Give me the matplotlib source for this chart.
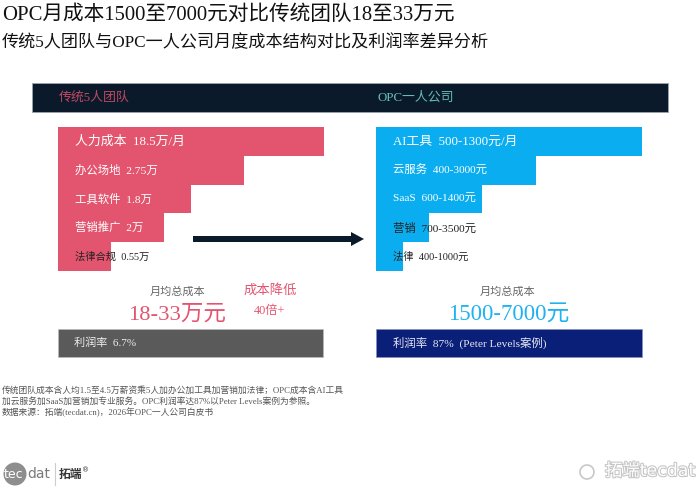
import matplotlib
matplotlib.use('Agg')
import matplotlib.pyplot as plt
from matplotlib.patches import Rectangle, Circle
import matplotlib.patheffects as pe

plt.rcParams['font.family'] = ['Liberation Serif', 'Noto Sans CJK SC', 'DejaVu Sans']

# cost structure (bar lengths are relative)
team_items = ['人力成本', '办公场地', '工具软件', '营销推广', '法律合规']
team_costs = ['18.5万/月', '2.75万', '1.8万', '2万', '0.55万']
team_len = [100, 70, 50, 40, 20]

opc_items = ['AI工具', '云服务', 'SaaS', '营销', '法律']
opc_costs = ['500-1300元/月', '400-3000元', '600-1400元', '700-3500元', '400-1000元']
opc_len = [100, 60, 40, 20, 10]

team_total = '18-33万元'
opc_total = '1500-7000元'
team_margin = '利润率  6.7%'
opc_margin = '利润率  87%  (Peter Levels案例)'
saving = ['成本降低', '40倍+']

title = 'OPC月成本1500至7000元对比传统团队18至33万元'
subtitle = '传统5人团队与OPC一人公司月度成本结构对比及利润率差异分析'
notes = [
    '传统团队成本含人均1.5至4.5万薪资乘5人加办公加工具加营销加法律；OPC成本含AI工具',
    '加云服务加SaaS加营销加专业服务。OPC利润率达87%以Peter Levels案例为参照。',
    '数据来源：拓端(tecdat.cn)，2026年OPC一人公司白皮书',
]

PINK = '#E3556F'
BLUE = '#0AAEF0'
NAVY_HDR = '#0B1A2A'
DARK = '#222222'

W, H = 700, 490
fig = plt.figure(figsize=(7, 4.9), dpi=100)
fig.patch.set_facecolor('white')

# background axes in pixel coordinates
bg = fig.add_axes([0, 0, 1, 1])
bg.set_xlim(0, W)
bg.set_ylim(H, 0)
bg.axis('off')

bg.text(2, 15, title, fontsize=14.9, color='#111111', va='center', ha='left')
bg.text(2, 43, subtitle, fontsize=12.3, color='#111111', va='center', ha='left')

# header band
bg.add_patch(Rectangle((32, 83), 636, 29, facecolor=NAVY_HDR, edgecolor='#9aa4ad', lw=0.6))
bg.text(59, 97.5, '传统5人团队', fontsize=9.3, color='#C04862', va='center')
bg.text(377, 97.5, 'OPC一人公司', fontsize=9.3, color='#63BDB6', va='center')


def bar_panel(x0, lens, items, costs, color, dark_from):
    ax = fig.add_axes([x0 / W, 1 - 271 / H, 266 / W, 144 / H])
    ax.barh(range(len(lens)), lens, height=1.0, color=color, edgecolor='none')
    ax.set_xlim(0, 100)
    ax.set_ylim(len(lens) - 0.5, -0.5)
    ax.axis('off')
    sizes = [9.3, 8.2, 8.2, 8.2, 7.4]
    for i, (it, c) in enumerate(zip(items, costs)):
        col = 'white' if i < dark_from else DARK
        ax.annotate(f'{it}  {c}', xy=(0, i), xytext=(17, 0), textcoords='offset pixels',
                    fontsize=sizes[i], color=col, va='center', ha='left')
    return ax


bar_panel(58, team_len, team_items, team_costs, PINK, 4)
bar_panel(376, opc_len, opc_items, opc_costs, BLUE, 3)

# arrow between panels
bg.arrow(193, 239, 171, 0, width=6, head_width=14, head_length=13,
         length_includes_head=True, color=NAVY_HDR, lw=0)

# totals
bg.text(178, 292, '月均总成本', fontsize=8, color='#666666', ha='center', va='center')
bg.text(177, 315, team_total, fontsize=16.2, color=PINK, ha='center', va='center')
bg.text(270, 290, saving[0], fontsize=9.6, color=PINK, ha='center', va='center')
bg.text(270, 311, saving[1], fontsize=8.8, color=PINK, ha='center', va='center')

bg.text(508, 292, '月均总成本', fontsize=8, color='#666666', ha='center', va='center')
bg.text(509, 314, opc_total, fontsize=16.4, color='#1EB2F0', ha='center', va='center')

# profit margin bars
bg.add_patch(Rectangle((58, 329), 265, 28, facecolor='#5A5A5A', edgecolor='#bbbbbb', lw=0.5))
bg.text(74, 343, team_margin, fontsize=8, color='#EEEEEE', va='center')
bg.add_patch(Rectangle((376, 329), 266, 28, facecolor='#0A1F78', edgecolor='#8890bb', lw=0.5))
bg.text(393, 343, opc_margin, fontsize=8.2, color='#E8E8F4', va='center')

# footnotes
for k, line in enumerate(notes):
    bg.text(2, 390 + 11 * k, line, fontsize=6.3, color='#555555', va='center')

# logo
bg.add_patch(Circle((15, 474), 11.5, facecolor='#8E8E8E', edgecolor='none'))
bg.text(3.5, 474, 'tec', fontsize=9, color='white', va='center', family='DejaVu Sans')
bg.text(27, 474, 'dat', fontsize=10, color='#7A7A7A', va='center', family='DejaVu Sans')
bg.plot([55, 55], [463, 485], color='#cccccc', lw=0.8)
bg.text(59, 474, '拓端', fontsize=8.5, color='#333333', va='center', family='Noto Sans CJK SC',
        fontweight='bold')
bg.text(82, 470, '®', fontsize=5, color='#333333', va='center', family='DejaVu Sans')

# watermark
bg.add_patch(Circle((587, 472), 7, facecolor='none', edgecolor='#c8c8c8', lw=1.2))
bg.text(605, 471, '拓端tecdat', fontsize=12.5, color='white', va='center',
        family=['DejaVu Sans', 'Noto Sans CJK SC'],
        path_effects=[pe.withStroke(linewidth=1.5, foreground='#c4c4c4')])

fig.savefig('out.png', dpi=100)
